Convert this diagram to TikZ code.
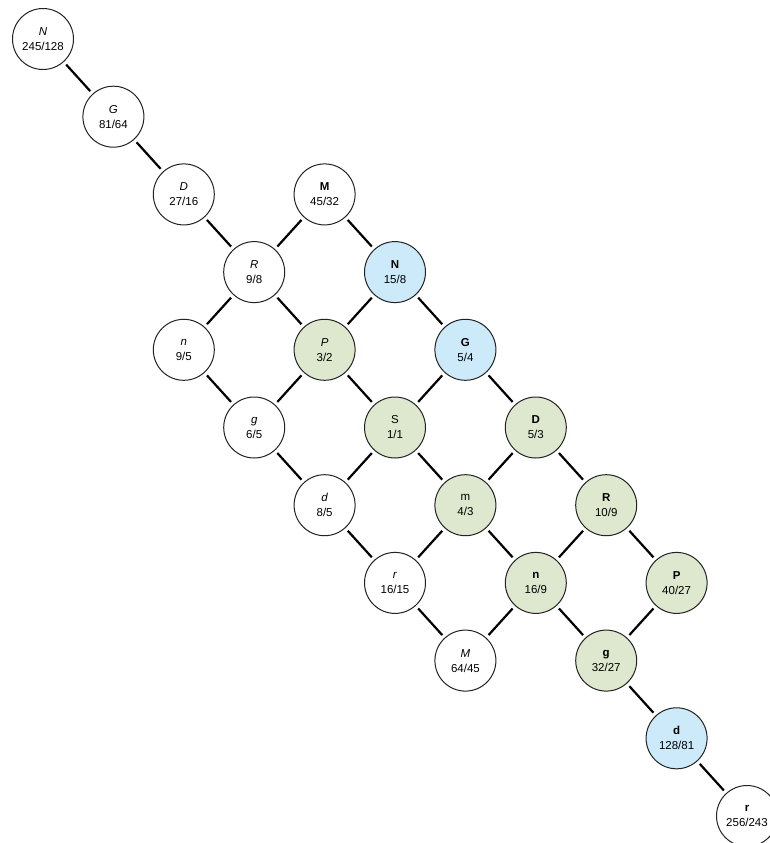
\documentclass[tikz,border=0pt]{standalone}
\usepackage{fontspec}
\setmainfont{Liberation Sans}
\definecolor{gfill}{HTML}{DDE8CF}
\definecolor{bfill}{HTML}{CCEAFA}
\definecolor{cline}{HTML}{222222}
\tikzset{
  tone/.style={circle, draw=cline, line width=1pt, minimum size=61pt, inner sep=0pt,
    outer sep=4pt, align=center, font=\fontsize{11.5}{15}\selectfont, fill=white},
  gtone/.style={tone, fill=gfill},
  btone/.style={tone, fill=bfill},
  link/.style={line width=2.2pt, black}
}
\begin{document}
\begin{tikzpicture}[x=1pt,y=1pt]
\useasboundingbox (0,0) rectangle (770,-843);
\clip (0,0) rectangle (770,-843);
% nodes
\node[tone]  (a) at (43,-39)      {\textit{N}\\245/128};
\node[tone]  (b) at (113.4,-116.7) {\textit{G}\\81/64};
\node[tone]  (c) at (183.8,-194.4) {\textit{D}\\27/16};
\node[tone]  (d) at (324.6,-194.4) {\textbf{M}\\45/32};
\node[tone]  (e) at (254.2,-272.1) {\textit{R}\\9/8};
\node[btone] (f) at (395,-272.1)   {\textbf{N}\\15/8};
\node[tone]  (g) at (183.8,-349.8) {\textit{n}\\9/5};
\node[gtone] (h) at (324.6,-349.8) {\textit{P}\\3/2};
\node[btone] (i) at (465.4,-349.8) {\textbf{G}\\5/4};
\node[tone]  (j) at (254.2,-427.5) {\textit{g}\\6/5};
\node[gtone] (k) at (395,-427.5)   {S\\1/1};
\node[gtone] (l) at (535.8,-427.5) {\textbf{D}\\5/3};
\node[tone]  (m) at (324.6,-505.2) {\textit{d}\\8/5};
\node[gtone] (n) at (465.4,-505.2) {m\\4/3};
\node[gtone] (o) at (606.2,-505.2) {\textbf{R}\\10/9};
\node[tone]  (p) at (395,-582.9)   {\textit{r}\\16/15};
\node[gtone] (q) at (535.8,-582.9) {\textbf{n}\\16/9};
\node[gtone] (r) at (676.6,-582.9) {\textbf{P}\\40/27};
\node[tone]  (s) at (465.4,-660.6) {\textit{M}\\64/45};
\node[gtone] (t) at (606.2,-660.6) {\textbf{g}\\32/27};
\node[btone] (u) at (676.6,-738.3) {\textbf{d}\\128/81};
\node[tone]  (v) at (747,-816)     {\textbf{r}\\256/243};
% connectors
\foreach \p/\q in {a/b,b/c,c/e,d/e,d/f,e/g,e/h,f/h,f/i,g/j,h/j,h/k,i/k,i/l,
                   j/m,k/m,k/n,l/n,l/o,m/p,n/p,n/q,o/q,o/r,p/s,q/s,q/t,r/t,t/u,u/v}
  \draw[link] (\p) -- (\q);
\end{tikzpicture}
\end{document}
